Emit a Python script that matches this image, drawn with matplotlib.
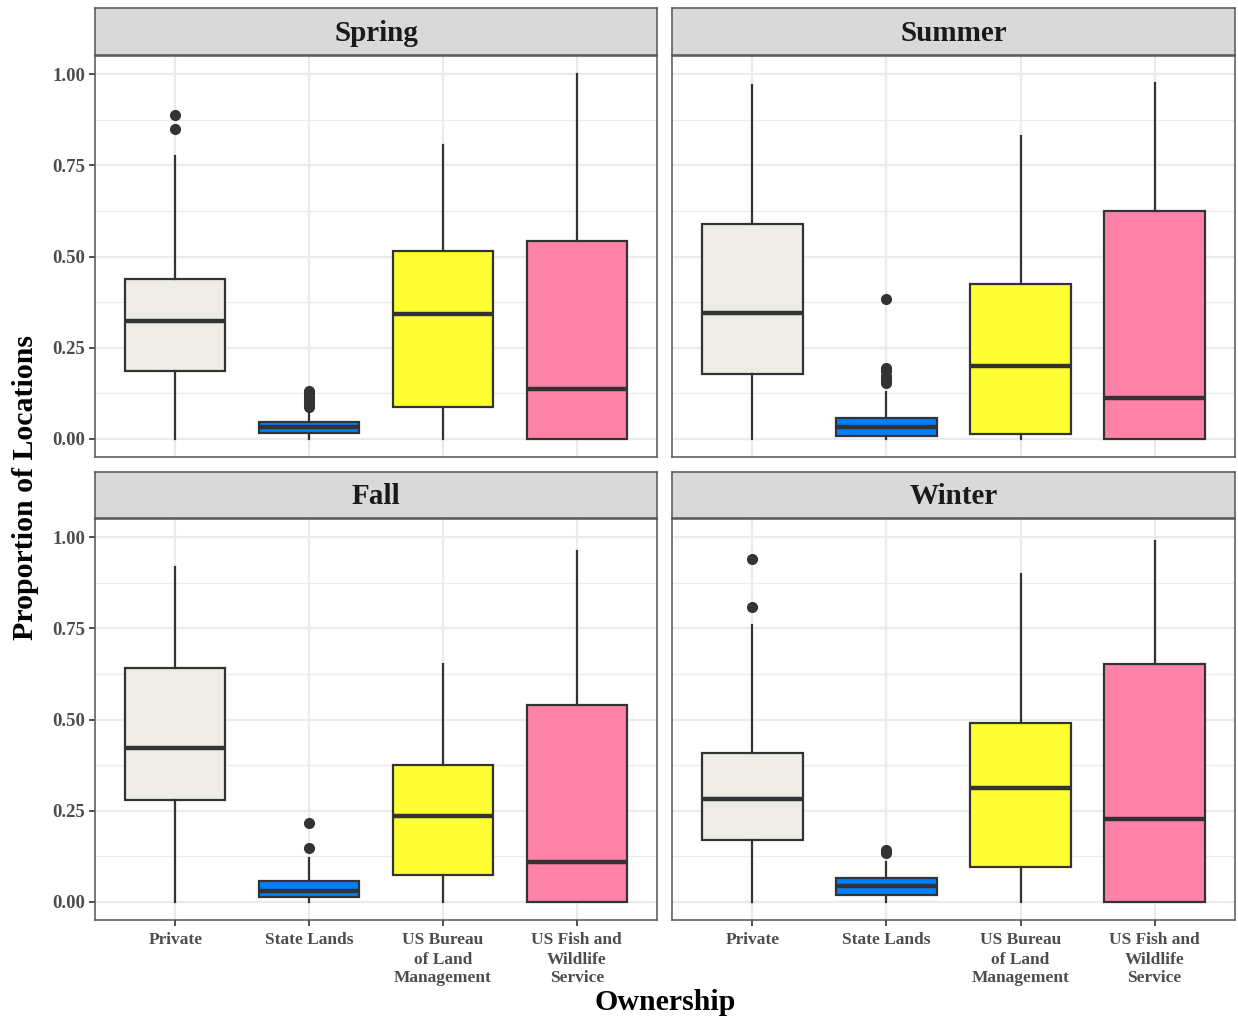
import matplotlib
matplotlib.use("Agg")
import matplotlib.pyplot as plt
import numpy as np

# ---- data ----
seasons = ["Spring", "Summer", "Fall", "Winter"]
categories = [
    "Private",
    "State Lands",
    "US Bureau\nof Land\nManagement",
    "US Fish and\nWildlife\nService",
]
fill_colors = ["#EDEDE5", "#0080FF", "#FFFF33", "#FF82A9"]

spring_q1 = [0.186, 0.016, 0.088, 0.0]
spring_med = [0.323, 0.031, 0.342, 0.136]
spring_q3 = [0.438, 0.047, 0.515, 0.542]
spring_lo = [0.0, 0.0, 0.0, 0.0]
spring_hi = [0.775, 0.077, 0.807, 1.0]
spring_out = [[0.851, 0.889], [0.088, 0.097, 0.106, 0.115, 0.124, 0.131], [], []]

summer_q1 = [0.179, 0.008, 0.013, 0.0]
summer_med = [0.346, 0.031, 0.200, 0.113]
summer_q3 = [0.590, 0.058, 0.424, 0.625]
summer_lo = [0.0, 0.0, 0.0, 0.0]
summer_hi = [0.970, 0.129, 0.830, 0.976]
summer_out = [[], [0.154, 0.165, 0.173, 0.185, 0.195, 0.383], [], []]

fall_q1 = [0.279, 0.012, 0.073, 0.0]
fall_med = [0.423, 0.030, 0.236, 0.110]
fall_q3 = [0.642, 0.058, 0.376, 0.539]
fall_lo = [0.0, 0.0, 0.0, 0.0]
fall_hi = [0.918, 0.119, 0.652, 0.962]
fall_out = [[], [0.148, 0.217], [], []]

winter_q1 = [0.169, 0.018, 0.096, 0.0]
winter_med = [0.282, 0.042, 0.313, 0.228]
winter_q3 = [0.409, 0.064, 0.491, 0.651]
winter_lo = [0.0, 0.0, 0.0, 0.0]
winter_hi = [0.760, 0.108, 0.900, 0.990]
winter_out = [[0.809, 0.941], [0.135, 0.142], [], []]

season_data = {
    "Spring": (spring_q1, spring_med, spring_q3, spring_lo, spring_hi, spring_out),
    "Summer": (summer_q1, summer_med, summer_q3, summer_lo, summer_hi, summer_out),
    "Fall": (fall_q1, fall_med, fall_q3, fall_lo, fall_hi, fall_out),
    "Winter": (winter_q1, winter_med, winter_q3, winter_lo, winter_hi, winter_out),
}

plt.rcParams["font.family"] = ["Liberation Serif", "DejaVu Serif"]
plt.rcParams["font.weight"] = "bold"

W, H = 1238, 1019
fig = plt.figure(figsize=(W / 100, H / 100), dpi=100)


def px_rect(x0, y0, x1, y1):
    return [x0 / W, 1 - y1 / H, (x1 - x0) / W, (y1 - y0) / H]


panel_x = [(95, 657), (672, 1235)]
panel_y = [(56, 457), (519, 920)]
strip_y = [(8, 55), (472, 518)]

dark = "#333333"
border = "#555555"
tick_col = "#4D4D4D"

for i, season in enumerate(seasons):
    r, c = divmod(i, 2)
    x0, x1 = panel_x[c]
    y0, y1 = panel_y[r]
    ax = fig.add_axes(px_rect(x0, y0, x1, y1))
    q1, med, q3, lo, hi, out = season_data[season]
    stats = []
    for k in range(len(categories)):
        stats.append(dict(q1=q1[k], med=med[k], q3=q3[k], whislo=lo[k],
                          whishi=hi[k], fliers=out[k]))
    bp = ax.bxp(
        stats,
        positions=np.arange(1, 5),
        widths=0.75,
        patch_artist=True,
        showcaps=False,
        boxprops=dict(edgecolor=dark, linewidth=1.6),
        medianprops=dict(color=dark, linewidth=3.2, solid_capstyle="butt"),
        whiskerprops=dict(color=dark, linewidth=1.6),
        flierprops=dict(marker="o", markerfacecolor=dark, markeredgecolor=dark,
                        markersize=7, linestyle="none"),
        zorder=3,
    )
    for patch, col in zip(bp["boxes"], fill_colors):
        patch.set_facecolor(col)

    ax.set_xlim(0.4, 4.6)
    ax.set_ylim(-0.05, 1.05)
    ax.set_xticks(np.arange(1, 5))
    ax.set_yticks([0, 0.25, 0.5, 0.75, 1.0])
    ax.set_yticks(np.arange(0.125, 1.0, 0.25), minor=True)
    ax.grid(True, which="major", color="#EBEBEB", linewidth=1.6, zorder=0)
    ax.grid(True, which="minor", axis="y", color="#EBEBEB", linewidth=0.9, zorder=0)
    ax.set_axisbelow(True)
    ax.tick_params(which="minor", length=0)
    ax.tick_params(which="major", length=4, width=1.2, color=dark,
                   labelcolor=tick_col, pad=3)
    ax.tick_params(axis="y", labelsize=13.5)
    ax.tick_params(axis="x", labelsize=12.5)
    for sp in ax.spines.values():
        sp.set_color(border)
        sp.set_linewidth(1.1)

    if c == 0:
        ax.set_yticklabels(["0.00", "0.25", "0.50", "0.75", "1.00"], fontweight="bold")
    else:
        ax.tick_params(axis="y", length=0, labelleft=False)
    if r == 1:
        ax.set_xticklabels(categories, fontweight="bold", linespacing=1.25, va="top")
        ax.tick_params(axis="x", pad=5)
    else:
        ax.tick_params(axis="x", length=0, labelbottom=False)

    # facet strip
    sy0, sy1 = strip_y[r]
    sax = fig.add_axes(px_rect(x0, sy0, x1, sy1))
    sax.set_facecolor("#D9D9D9")
    sax.set_xticks([])
    sax.set_yticks([])
    for sp in sax.spines.values():
        sp.set_color(border)
        sp.set_linewidth(1.1)
    sax.text(0.5, 0.46, season, transform=sax.transAxes, ha="center", va="center",
             fontsize=21, fontweight="bold", color="#1A1A1A")

fig.text(665 / W, 1 - 1003 / H, "Ownership", ha="center", va="center",
         fontsize=21.5, fontweight="bold")
fig.text(26 / W, 1 - 488 / H, "Proportion of Locations", ha="center", va="center",
         rotation=90, fontsize=21.5, fontweight="bold")

fig.savefig("out.png", dpi=100)
